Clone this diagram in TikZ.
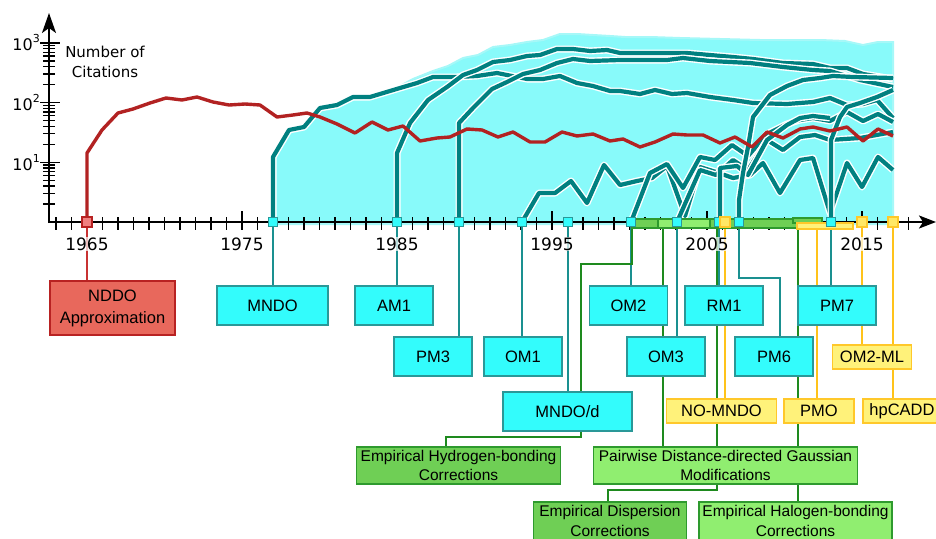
\documentclass[tikz,border=0pt]{standalone}
\usepackage{fontspec}
\setmainfont{Liberation Sans}
\newfontfamily\dejavu{DejaVu Sans}
\usetikzlibrary{arrows.meta}
\definecolor{tealc}{HTML}{008080}
\definecolor{redc}{HTML}{B22222}
\definecolor{regionf}{HTML}{88FAFA}
\definecolor{regiond}{HTML}{A6F8F8}
\definecolor{cboxf}{HTML}{33FCFC}
\definecolor{cboxd}{HTML}{2A9898}
\definecolor{tconc}{HTML}{1A9090}
\definecolor{rboxf}{HTML}{E8685C}
\definecolor{rboxd}{HTML}{B82222}
\definecolor{rmkf}{HTML}{F08080}
\definecolor{rconc}{HTML}{C83232}
\definecolor{yboxf}{HTML}{FFF27A}
\definecolor{yboxd}{HTML}{FFC82A}
\definecolor{ymkf}{HTML}{FFE866}
\definecolor{yconc}{HTML}{FFC31A}
\definecolor{dgf}{HTML}{6FCF55}
\definecolor{lgf}{HTML}{90EE70}
\definecolor{gbd}{HTML}{2E9A2E}
\definecolor{gconc}{HTML}{1E8A1E}
\pgfdeclarelayer{bg}
\pgfdeclarelayer{conn}
\pgfsetlayers{bg,conn,main}
\begin{document}
\begin{tikzpicture}[x=1pt,y=-1pt,
  tick/.style={line width=1.3pt, draw=black},
  curve/.style={draw=tealc, line width=4.2pt, line join=round, preaction={draw=white, line width=7pt, line join=round}},
  rcurve/.style={draw=redc, line width=3.4pt, line join=round},
  tcon/.style={draw=tconc, line width=2pt},
  gcon/.style={draw=gconc, line width=2pt},
  ycon/.style={draw=yconc, line width=2pt},
  rcon/.style={draw=rconc, line width=2pt},
  basebox/.style={inner sep=0pt, line width=1.3pt, align=center},
  cbox/.style={basebox, fill=cboxf, draw=cboxd, font=\fontsize{16.5}{20}\selectfont},
  ybox/.style={basebox, fill=yboxf, draw=yboxd, font=\fontsize{16.5}{20}\selectfont},
  rbox/.style={basebox, fill=rboxf, draw=rboxd, line width=2pt, font=\fontsize{16.5}{22}\selectfont},
  dgbox/.style={basebox, fill=dgf, draw=gbd, font=\fontsize{15.5}{19.5}\selectfont},
  lgbox/.style={basebox, fill=lgf, draw=gbd, font=\fontsize{15.5}{19.5}\selectfont},
  mk/.style={inner sep=0pt, minimum size=9pt, line width=1.2pt},
  mkc/.style={mk, fill=cboxf, draw=cboxd},
  mky/.style={mk, minimum size=10pt, fill=ymkf, draw=yboxd},
  mkr/.style={mk, minimum size=10pt, fill=rmkf, draw=rboxd},
  yrlab/.style={font=\dejavu\fontsize{17}{20}\selectfont, fill=white, fill opacity=0.7, text opacity=1, inner sep=1pt},
  ylab/.style={font=\dejavu\fontsize{16}{18}\selectfont, anchor=east, inner sep=0pt},
]
\useasboundingbox (0,0) rectangle (936,538);
\clip (0,0) rectangle (936,538);

% ---------------- background: plot ----------------
\begin{pgfonlayer}{bg}
\fill[regionf, draw=regiond, line width=2pt] (273,224) -- (273,155) -- (289,129) -- (304,125) -- (320,106) -- (337,103) -- (353,95) -- (370,95) -- (385,92) -- (400,86) -- (413,79) -- (433,71) -- (448,66) -- (463,58) -- (478,55) -- (493,47) -- (510,45) -- (527,42) -- (543,40) -- (560,34) -- (577,34) -- (593,35) -- (610,36) -- (625,37) -- (650,37) -- (680,38) -- (720,39) -- (760,40) -- (790,40) -- (820,40) -- (845,41) -- (863,45) -- (878,42) -- (893,42) -- (893,224) -- cycle;

% x ticks
\foreach \yr in {1963,...,2018}{
  \pgfmathsetmacro\xx{87+(\yr-1965)*15.5}
  \draw[tick] (\xx,217) -- (\xx,230);
}
\foreach \yr in {1965,1975,...,2015}{
  \pgfmathsetmacro\xx{87+(\yr-1965)*15.5}
  \draw[tick] (\xx,211) -- (\xx,230);
}
% y ticks
\foreach \k in {0,1,2}{
  \foreach \m in {2,...,9}{
    \pgfmathsetmacro\yy{222-59.7*(\k+log10(\m))}
    \draw[tick] (43,\yy) -- (55,\yy);
  }
}
\foreach \k in {1,2,3}{
  \pgfmathsetmacro\yy{222-59.7*\k}
  \draw[tick] (40,\yy) -- (60,\yy);
}

% citation curves
\draw[curve] (273,222) -- (273,157) -- (289,130) -- (304,127) -- (320,108) -- (337,105) -- (353,97) -- (370,97) -- (400,88) -- (417,83) -- (433,77) -- (457,77) -- (477,76) -- (497,73) -- (527,79) -- (543,79) -- (560,76) -- (577,83) -- (593,86) -- (610,91) -- (620,91) -- (640,94) -- (655,90) -- (672,94) -- (687,93) -- (710,97) -- (733,100) -- (753,103) -- (787,104) -- (813,102) -- (830,98) -- (847,105) -- (863,104) -- (877,100) -- (893,118);
\draw[curve] (397,222) -- (397,153) -- (410,123) -- (428,100) -- (447,87) -- (463,75) -- (477,70) -- (493,62) -- (510,60) -- (527,56) -- (540,55) -- (557,49) -- (573,49) -- (590,51) -- (607,50) -- (620,53) -- (650,53) -- (670,53) -- (687,53) -- (710,55) -- (733,57) -- (753,59) -- (783,63) -- (813,64) -- (830,68) -- (847,68) -- (863,74) -- (893,79);
\draw[curve] (459,222) -- (459,123) -- (473,108) -- (492,89) -- (507,82) -- (523,74) -- (540,70) -- (557,63) -- (573,59) -- (590,61) -- (620,60) -- (667,60) -- (683,58) -- (710,61) -- (750,63) -- (783,67) -- (813,70) -- (830,71) -- (860,80) -- (893,87);
\draw[curve] (522,222) -- (539,193) -- (555,193) -- (571,181) -- (587,203) -- (604,165) -- (620,185) -- (637,181) -- (652,178) -- (667,166) -- (685,216) -- (700,167) -- (716,172) -- (733,178) -- (750,175) -- (763,163) -- (780,193) -- (800,160) -- (813,158) -- (830,213) -- (847,163) -- (862,187) -- (878,157) -- (893,170);
\draw[curve] (631,222) -- (650,173) -- (667,164) -- (683,188) -- (700,157) -- (715,160) -- (732,145) -- (748,156) -- (767,134) -- (787,124) -- (800,120) -- (813,118) -- (830,121) -- (847,112) -- (863,121) -- (878,114) -- (893,122);
\draw[curve] (677,222) -- (700,170) -- (716,175) -- (733,160) -- (748,170) -- (767,140) -- (783,150) -- (800,137) -- (815,135) -- (830,140) -- (860,138) -- (893,132);
\draw[curve] (720,222) -- (720,168) -- (737,166) -- (748,175) -- (767,140) -- (787,125) -- (800,118) -- (813,116) -- (830,118);
\draw[curve] (739,222) -- (739,200) -- (743,173) -- (748,147) -- (753,117) -- (770,95) -- (787,86) -- (803,80) -- (820,78) -- (833,76) -- (853,77) -- (893,78);
\draw[curve] (831,222) -- (831,140) -- (840,117) -- (847,107) -- (860,103) -- (877,97) -- (893,90);
% NDDO citations
\draw[rcurve] (87,222) -- (87,153) -- (102,130) -- (118,113) -- (133,109) -- (150,103) -- (166,98) -- (182,100) -- (197,97) -- (213,102) -- (229,105) -- (245,104) -- (260,105) -- (277,117) -- (293,115) -- (307,113) -- (320,117) -- (337,124) -- (355,133) -- (372,122) -- (388,130) -- (403,126) -- (420,141) -- (437,138) -- (450,137) -- (467,129) -- (482,130) -- (498,137) -- (513,132) -- (530,142) -- (545,142) -- (562,132) -- (577,136) -- (593,134) -- (610,141) -- (623,139) -- (640,147) -- (655,142) -- (673,134) -- (687,135) -- (703,135) -- (720,143) -- (735,137) -- (752,147) -- (767,132) -- (783,138) -- (800,129) -- (813,127) -- (830,131) -- (847,127) -- (863,141) -- (878,129) -- (893,136);

% axes
\draw[line width=2pt, -{Stealth[length=17pt,width=13pt,inset=4pt]}] (49,222) -- (936,222);
\draw[line width=2pt, -{Stealth[length=20pt,width=14pt,inset=5pt]}] (49,223) -- (49,13);
\end{pgfonlayer}

% axis labels
\foreach \k in {1,2,3}{
  \pgfmathsetmacro\yy{222-59.7*\k}
  \node[ylab] (lab\k) at (40,\yy) {10\raisebox{0.5em}{\fontsize{11}{11}\selectfont\k}};
}
\node[font=\dejavu\fontsize{15}{20}\selectfont, align=center] (ylabel) at (105,62) {Number of\\Citations};

% year labels
\foreach \yr in {1965,1975,...,2015}{
  \pgfmathsetmacro\xx{87+(\yr-1965)*15.5}
  \node[yrlab] (yr\yr) at (\xx,244) {\yr};
}

% bars on the axis
\draw[fill=dgf, draw=gbd, line width=1.2pt] (632,219) rectangle (822,228);
\draw[fill=dgf, draw=gbd, line width=1.2pt] (793,218) rectangle (822,223);
\draw[fill=lgf, draw=gbd, line width=1.2pt] (658,219) rectangle (710,228);
\draw[fill=yboxf, draw=yboxd, line width=1.5pt] (797,223) rectangle (853,229);
\coordinate (g2000) at (632,228);
\coordinate (g2002) at (663,228);
\coordinate (g2006) at (716.5,228);
\coordinate (g2010) at (797.5,228);
\coordinate (yb) at (817,229);

% markers
\node[mkr] (m1965) at (87,222) {};
\node[mkc] (m1977) at (273,222) {};
\node[mkc] (m1985) at (397,222) {};
\node[mkc] (m1989) at (459,222) {};
\node[mkc] (m1993) at (522,222) {};
\node[mkc] (m1996) at (568,222) {};
\node[mkc] (m2000) at (631,222) {};
\node[mkc] (m2003) at (677,222) {};
\node[mkc] (m2006c) at (719,222) {};
\node[mky] (m2006y) at (725,222) {};
\node[mkc] (m2007) at (739,222) {};
\node[mkc] (m2013) at (831,222) {};
\node[mky] (m2015) at (862,222) {};
\node[mky] (m2017) at (893,222) {};

% boxes
\node[rbox, minimum width=125pt, minimum height=54pt] (nddo) at (112.5,308) {NDDO\\Approximation};
\node[cbox, minimum width=111pt, minimum height=39pt] (mndo) at (272.5,305.5) {MNDO};
\node[cbox, minimum width=78pt, minimum height=39pt] (am1) at (394,305.5) {AM1};
\node[cbox, minimum width=78pt, minimum height=39pt] (pm3) at (433,356.5) {PM3};
\node[cbox, minimum width=78pt, minimum height=39pt] (om1) at (523,356.5) {OM1};
\node[cbox, minimum width=129pt, minimum height=39pt] (mndod) at (567.5,411.5) {MNDO/d};
\node[cbox, minimum width=78pt, minimum height=39pt] (om2) at (628.5,305.5) {OM2};
\node[cbox, minimum width=78pt, minimum height=39pt] (om3) at (666,356.5) {OM3};
\node[cbox, minimum width=78pt, minimum height=39pt] (rm1) at (724,305.5) {RM1};
\node[cbox, minimum width=78pt, minimum height=39pt] (pm6) at (774,356.5) {PM6};
\node[cbox, minimum width=78pt, minimum height=39pt] (pm7) at (837,305.5) {PM7};
\node[ybox, minimum width=79pt, minimum height=24pt] (om2ml) at (872,357) {OM2-ML};
\node[ybox, minimum width=110pt, minimum height=24pt] (nomndo) at (721.5,411) {NO-MNDO};
\node[ybox, minimum width=70pt, minimum height=24pt] (pmo) at (819,411) {PMO};
\node[ybox, minimum width=78pt, minimum height=24pt] (hpcadd) at (902,411) {hpCADD};
\node[dgbox, minimum width=204pt, minimum height=37pt] (hbond) at (458.5,465.5) {Empirical Hydrogen-bonding\\Corrections};
\node[lgbox, minimum width=264pt, minimum height=37pt] (pairwise) at (725.5,465.5) {Pairwise Distance-directed Gaussian\\Modifications};
\node[dgbox, minimum width=153pt, minimum height=38pt] (disp) at (610,521) {Empirical Dispersion\\Corrections};
\node[lgbox, minimum width=193pt, minimum height=38pt] (halogen) at (795.5,521) {Empirical Halogen-bonding\\Corrections};

% connectors
\begin{pgfonlayer}{conn}
\draw[rcon] (m1965) -- (m1965 |- nddo.north);
\draw[tcon] (m1977) -- (m1977 |- mndo.north);
\draw[tcon] (m1985) -- (m1985 |- am1.north);
\draw[tcon] (m1989) -- (m1989 |- pm3.north);
\draw[tcon] (m1993) -- (m1993 |- om1.north);
\draw[tcon] (m1996) -- (m1996 |- mndod.north);
\draw[tcon] (m2000) -- (m2000 |- om2.north);
\draw[tcon] (m2003) -- (m2003 |- om3.north);
\draw[tcon] (m2006c) -- (m2006c |- rm1.north);
\draw[tcon] (m2007) |- (780,278) -- (pm6.north -| 780,0);
\draw[tcon] (m2013) -- (m2013 |- pm7.north);
\draw[ycon] (m2006y) -- (m2006y |- nomndo.north);
\draw[ycon] (yb) -- (yb |- pmo.north);
\draw[ycon] (m2015) -- (m2015 |- om2ml.north);
\draw[ycon] (m2017) -- (m2017 |- hpcadd.north);
\draw[gcon] (g2000) -- (632,264) -| (mndod.north -| 581,0);
\draw[gcon] (mndod.south -| 581,0) |- (446,437) -- (hbond.north -| 446,0);
\draw[gcon] (g2002) -- (g2002 |- pairwise.north);
\draw[gcon] (g2006) -- (g2006 |- pairwise.north);
\draw[gcon] (g2010) -- (g2010 |- pairwise.north);
\draw[gcon] (pairwise.south -| 717,0) |- (608,490) -- (disp.north -| 608,0);
\draw[gcon] (pairwise.south -| 798,0) -- (halogen.north -| 798,0);
\end{pgfonlayer}
\end{tikzpicture}
\end{document}
